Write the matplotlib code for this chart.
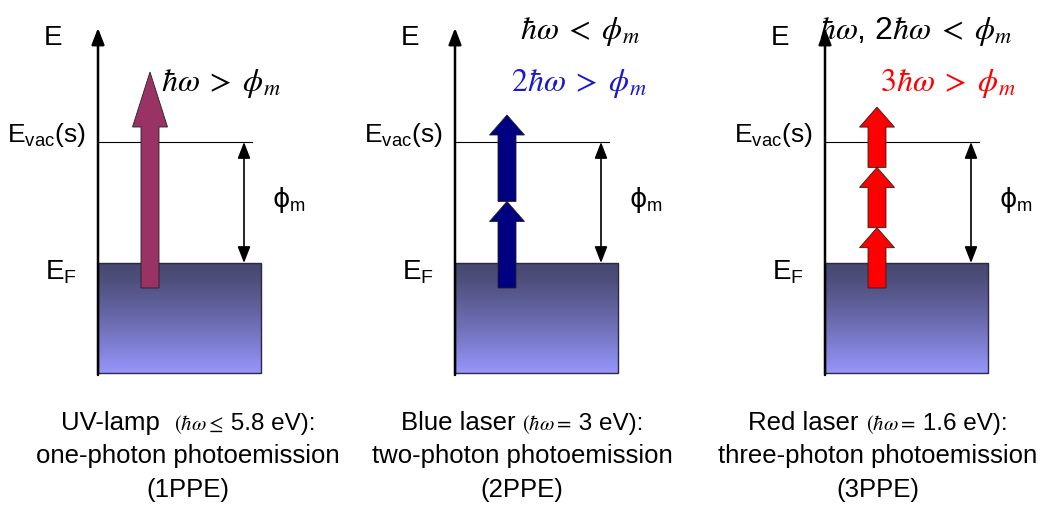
import numpy as np
import matplotlib.pyplot as plt
from matplotlib.patches import Rectangle, FancyArrow
from matplotlib.colors import to_rgb

plt.rcParams['font.family'] = ['Liberation Sans', 'DejaVu Sans']
plt.rcParams['mathtext.fontset'] = 'custom'
plt.rcParams['mathtext.rm'] = 'Liberation Sans'
plt.rcParams['mathtext.it'] = 'Liberation Sans:italic'
plt.rcParams['mathtext.bf'] = 'Liberation Sans:bold'

# data
sources = ['UV-lamp  ', 'Blue laser ', 'Red laser ']
hw_relation = [r'$(\hbar\omega \leq$', r'$(\hbar\omega =$', r'$(\hbar\omega =$']
hw_value = [' 5.8 eV):', ' 3 eV):', ' 1.6 eV):']
processes = ['one-photon photoemission', 'two-photon photoemission', 'three-photon photoemission']
short_names = ['(1PPE)', '(2PPE)', '(3PPE)']
n_photons = [1, 2, 3]
photon_len = [216, 86.5, 60.3]   # schematic photon energy, in px (phi_m = 121 px)
cond_upper = ['', r'$\hbar\omega\;<\;\phi_m$', r'$\hbar\omega$, 2$\hbar\omega\;<\;\phi_m$']
cond_lower = [r'$\hbar\omega\;>\;\phi_m$', r'$2\hbar\omega\;>\;\phi_m$', r'$3\hbar\omega\;>\;\phi_m$']

# layout / styles
axis_x = [98, 455, 825]
label_cx = [188, 522, 878]
upper_cx = [0, 580, 916]
lower_cx = [221, 579, 948]
head_len = [55, 20, 20]
arrow_colors = ['#993366', '#000080', '#ff0000']
cond_colors = ['black', '#1a1acc', '#ff0000']
y_top, y_vac, y_F, y_bot, y_start = 28, 142, 263, 373, 288

fig = plt.figure(figsize=(10.44, 5.12), dpi=100)
ax = fig.add_axes([0, 0, 1, 1])

top_c = np.array(to_rgb('#47476f'))
bot_c = np.array(to_rgb('#9696fc'))
t = np.linspace(0, 1, 200) ** 1.2
grad = (top_c + (bot_c - top_c) * t[:, None])[:, None, :]

for i in range(3):
    x0 = axis_x[i]
    ax.imshow(grad, extent=(x0, x0 + 163, y_bot, y_F), origin='upper',
              aspect='auto', zorder=1, interpolation='bilinear')
    ax.add_patch(Rectangle((x0, y_F), 163, y_bot - y_F, fill=False,
                           ec='#2a2a40', lw=1.0, zorder=2))
    # energy axis
    ax.annotate('', xy=(x0, y_top), xytext=(x0, y_bot + 2),
                arrowprops=dict(arrowstyle='-|>,head_length=0.9,head_width=0.35',
                                lw=1.8, color='black', mutation_scale=11,
                                shrinkA=0, shrinkB=0), zorder=4)
    # vacuum level
    ax.plot([x0, x0 + 154], [y_vac, y_vac], color='black', lw=0.8, zorder=2)
    # work function
    ax.annotate('', xy=(x0 + 146, y_vac), xytext=(x0 + 146, y_F),
                arrowprops=dict(arrowstyle='<|-|>,head_length=0.9,head_width=0.35',
                                lw=1.2, color='black', mutation_scale=11,
                                shrinkA=0, shrinkB=0), zorder=4)
    ax.text(x0 + 174, 200, '\u03d5$_{\\mathrm{m}}$', fontsize=19,
            ha='left', va='center', family=['DejaVu Sans'])
    # photons
    y = y_start
    for k in range(n_photons[i]):
        ax.add_patch(FancyArrow(x0 + 52, y, 0, -photon_len[i], width=18,
                                head_width=35, head_length=head_len[i],
                                length_includes_head=True, fc=arrow_colors[i],
                                ec='#222222', lw=0.6, zorder=3))
        y -= photon_len[i]
    # level labels
    ax.text(x0 - 45, 38, 'E', fontsize=20, ha='center', va='center')
    ax.text(x0 - 13, y_vac, 'E$_{\\mathrm{vac}}$(s)', fontsize=19,
            ha='right', va='baseline')
    ax.text(x0 - 53, 280, 'E$_{\\mathrm{F}}$', fontsize=20, ha='left',
            va='baseline')
    # conditions
    if cond_upper[i]:
        ax.text(upper_cx[i], 31, cond_upper[i], fontsize=23, ha='center',
                va='center', math_fontfamily='stix')
    ax.text(lower_cx[i], 83, cond_lower[i], fontsize=23, ha='center',
            va='center', color=cond_colors[i], math_fontfamily='stix')
    # captions
    ax.text(label_cx[i], 456, processes[i], fontsize=18.5, ha='center', va='center')
    ax.text(label_cx[i], 490, short_names[i], fontsize=18.5, ha='center', va='center')

ax.set_xlim(0, 1044)
ax.set_ylim(512, 0)
ax.axis('off')

# first caption line built from pieces of different size, then centred
fig.canvas.draw()
r = fig.canvas.get_renderer()
for i in range(3):
    parts = [ax.text(0, 430, sources[i], fontsize=18.5, va='baseline'),
             ax.text(0, 430, hw_relation[i], fontsize=15, va='baseline',
                     math_fontfamily='stix'),
             ax.text(0, 430, hw_value[i], fontsize=17.5, va='baseline')]
    widths = [p.get_window_extent(r).width for p in parts]
    x = label_cx[i] - sum(widths) / 2
    for p, w in zip(parts, widths):
        p.set_x(x)
        x += w

fig.savefig('out.png', dpi=100)
